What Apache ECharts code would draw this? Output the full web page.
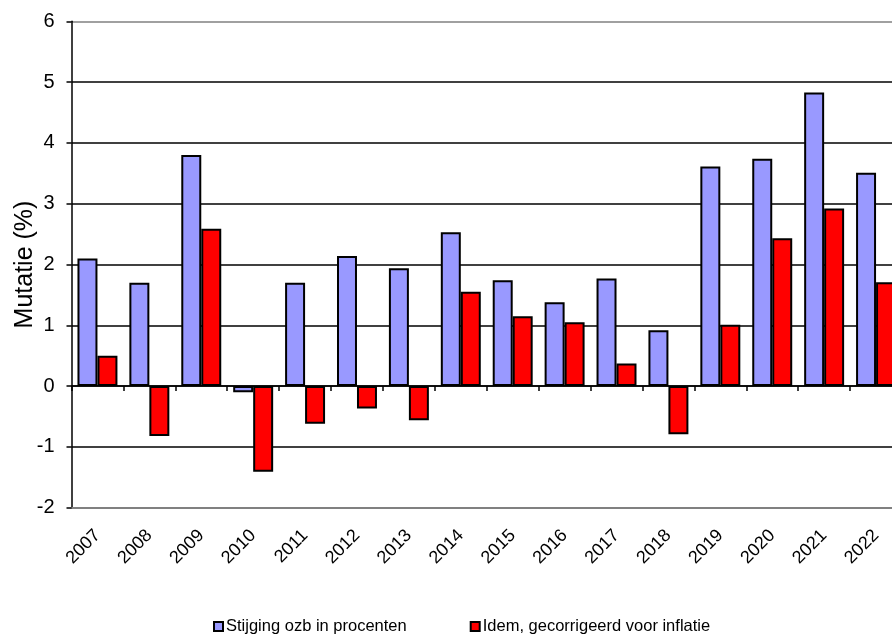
<!DOCTYPE html>
<html>
<head>
<meta charset="utf-8">
<script src="https://cdn.jsdelivr.net/npm/echarts@6/dist/echarts.min.js"></script>
<style>html,body{margin:0;padding:0;background:#fff}#c{width:892px;height:635px}</style>
</head>
<body>
<div id="c"></div>
<script>
const years = ['2007','2008','2009','2010','2011','2012','2013','2014','2015','2016','2017','2018','2019','2020','2021','2022'];
const ozb = [2.1, 1.7, 3.8, -0.1, 1.7, 2.14, 1.94, 2.53, 1.74, 1.38, 1.77, 0.92, 3.61, 3.74, 4.83, 3.51];
const ozbReal = [0.5, -0.82, 2.59, -1.41, -0.62, -0.37, -0.56, 1.55, 1.15, 1.05, 0.37, -0.79, 1.01, 2.43, 2.92, 1.71];
const yTicks = {min: -2, max: 6, interval: 1};
const seriesNames = ['Stijging ozb in procenten', 'Idem, gecorrigeerd voor inflatie'];

const font = 'Liberation Sans, Arial, sans-serif';
const chart = echarts.init(document.getElementById('c'));
chart.setOption({
  animation: false,
  grid: {left: 71.5, top: 21.3, bottom: 127.3, right: -10, containLabel: false, outerBoundsMode: 'none'},
  legend: {
    top: 613, left: 208,
    itemWidth: 9, itemHeight: 9, itemGap: 63, icon: 'rect',
    textStyle: {fontFamily: font, fontSize: 16.5, color: '#000', padding: [0, 0, 0, -2]},
    data: seriesNames
  },
  xAxis: [{
    type: 'category', data: years, position: 'bottom',
    axisLine: {onZero: true, lineStyle: {color: '#000', width: 1.5}},
    axisTick: {show: true, length: 5, lineStyle: {color: '#000', width: 1.5}},
    axisLabel: {show: false},
    splitLine: {show: false}
  }, {
    type: 'category', data: years, position: 'bottom',
    axisLine: {onZero: false, lineStyle: {color: '#808080', width: 2}},
    axisTick: {show: false},
    axisLabel: {rotate: 45, fontFamily: font, fontSize: 18, color: '#000', margin: 25, interval: 0},
    splitLine: {show: false}
  }],
  yAxis: {
    type: 'value', min: yTicks.min, max: yTicks.max, interval: yTicks.interval,
    name: 'Mutatie (%)', nameLocation: 'middle', nameGap: 34, nameRotate: 90, nameMoveOverlap: false,
    nameTextStyle: {fontFamily: font, fontSize: 25, color: '#000'},
    axisLine: {show: true, lineStyle: {color: '#000', width: 1.5}},
    axisTick: {show: true, length: 5, lineStyle: {color: '#000', width: 1.5}},
    axisLabel: {fontFamily: font, fontSize: 20, color: '#000', margin: 17},
    splitLine: {show: true, lineStyle: {color: ['#808080','#000','#000','#000','#000','#000','#000','#000','#808080'], width: 1.5}}
  },
  series: [{
    name: seriesNames[0], type: 'bar', data: ozb, barGap: '0%', barCategoryGap: '23%',
    itemStyle: {color: '#9999FF', borderColor: '#000', borderWidth: 2}
  }, {
    name: seriesNames[1], type: 'bar', data: ozbReal, barGap: '0%', barCategoryGap: '23%',
    itemStyle: {color: '#FF0000', borderColor: '#000', borderWidth: 2}
  }]
});
</script>
</body>
</html>
